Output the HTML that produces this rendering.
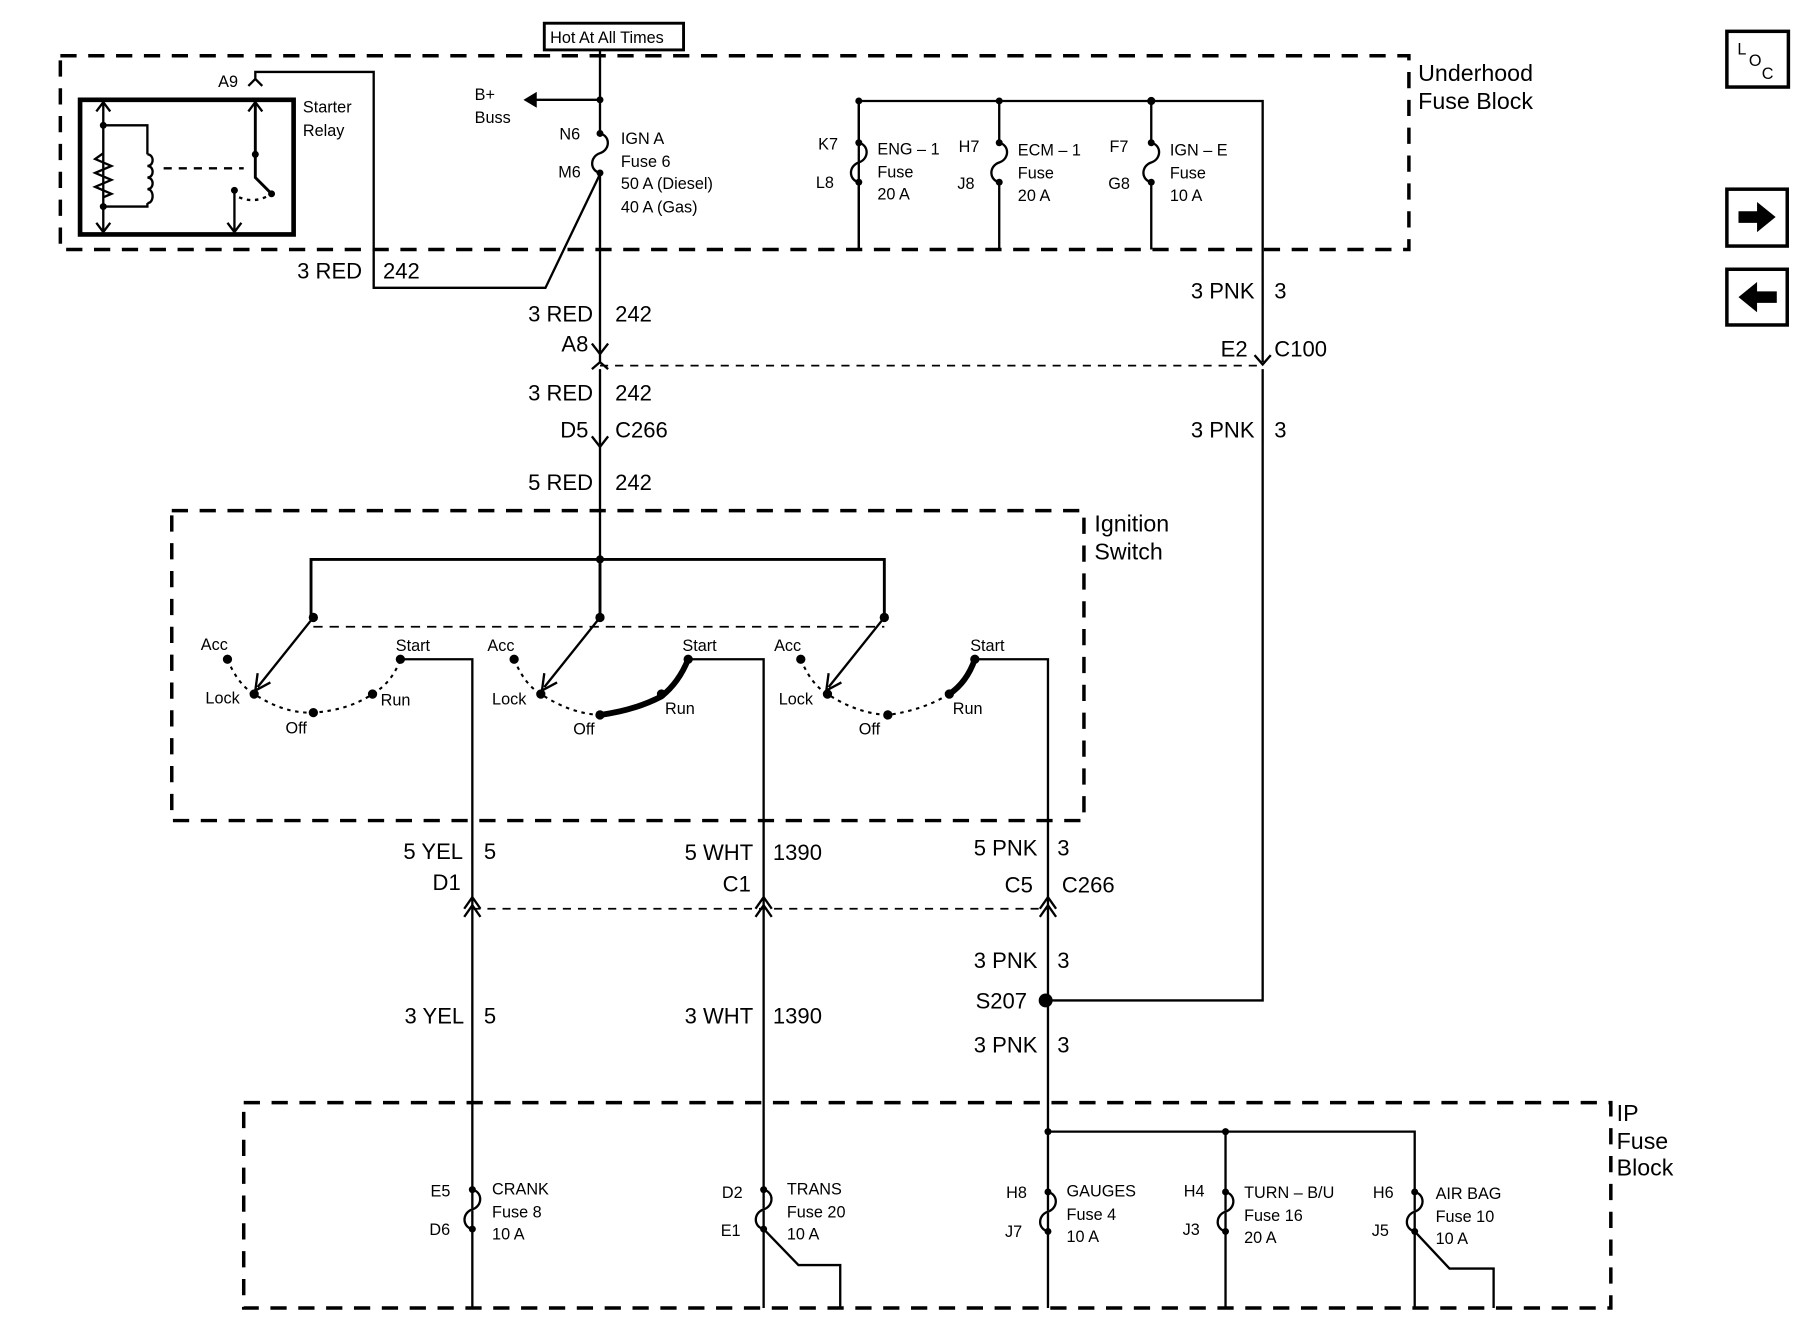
<!DOCTYPE html>
<html><head><meta charset="utf-8"><style>
html,body{margin:0;padding:0;background:#fff;}
svg{display:block}
text{font-family:"Liberation Sans",Arial,sans-serif;fill:#000}
.w{font-size:19px}
.s{font-size:14px}
.l{font-size:20px}
</style></head><body>
<svg width="1800" height="1344" viewBox="0 0 1551 1158" preserveAspectRatio="none" xmlns="http://www.w3.org/2000/svg">
<g fill="none" stroke="#000">
<!-- dashed boxes -->
<rect x="52" y="48" width="1162" height="167" stroke-width="3" stroke-dasharray="14,10"/>
<rect x="148" y="440" width="786" height="267" stroke-width="3" stroke-dasharray="14,10"/>
<rect x="210" y="950" width="1178" height="177" stroke-width="3" stroke-dasharray="14,10"/>
<!-- hot box -->
<rect x="469" y="20" width="120" height="23" stroke-width="2.5"/>
<!-- starter relay -->
<rect x="69" y="86" width="184" height="116" stroke-width="4"/>
<path d="M89,88 V200 M89,108 H127 V133 M127,175 V178 H89 M89,132 L82,137 L96,143 L82,149 L96,155 L82,161 L96,167 L89,170" stroke-width="2"/>
<path d="M127,133 c6,0 6,10 0,10 c6,0 6,10 0,10 c6,0 6,10 0,10 c6,0 6,12 0,12" stroke-width="2"/>
<path d="M83,96 L89,88 L95,96 M83,192 L89,200 L95,192" stroke-width="2"/>
<path d="M141,145 H210" stroke-width="2" stroke-dasharray="7,6"/>
<path d="M220,88 V153 L234,167" stroke-width="2.5"/>
<path d="M214,96 L220,88 L226,96" stroke-width="2"/>
<path d="M202,164 V200 M196,192 L202,200 L208,192" stroke-width="2"/>
<path d="M206,170 Q220,176 234,167" stroke-width="2" stroke-dasharray="3,4"/>
<path d="M214,74 L220,68 L226,74 M220,68 V62 H322 V248 H470 L517,150" stroke-width="2"/>
<path d="M322,222 V248" stroke-width="1.5"/>
<!-- main feed -->
<path d="M517,43 V115 M517,149 V312 M517,318 V480" stroke-width="2"/>
<path d="M517,115 c9,2 9,14 0,17 c-9,3 -9,15 0,17" stroke-width="2"/>
<path d="M517,86 H462" stroke-width="2"/>
<path d="M462,80 L452,86 L462,92 Z" fill="#000"/>
<path d="M510,296 L517,305 L524,296 M510,318 L517,312 L524,318 M510,376 L517,385 L524,376" stroke-width="2"/>
<path d="M517,315 H1088" stroke-width="1.5" stroke-dasharray="7,6"/>
<!-- right fuses -->
<path d="M740,215 V87 H1088 V312 M1088,318 V862 H903" stroke-width="2"/>
<path d="M740,87 V123 M740,157 V215 M861,87 V123 M861,157 V215 M992,87 V123 M992,157 V215" stroke-width="2"/>
<path d="M740,123 c9,2 9,14 0,17 c-9,3 -9,15 0,17 M861,123 c9,2 9,14 0,17 c-9,3 -9,15 0,17 M992,123 c9,2 9,14 0,17 c-9,3 -9,15 0,17" stroke-width="2"/>
<path d="M1081,306 L1088,314 L1095,306" stroke-width="2"/>
<!-- wire label dividers -->
<path d="M517,260 V282 M517,328 V350 M517,404 V426 M1088,240 V262 M1088,360 V382 M407,722 V744 M658,722 V744 M903,720 V742 M903,816 V838 M407,864 V886 M658,864 V886 M903,890 V912" stroke-width="1.5"/>
<!-- ignition switch -->
<path d="M268,532 V482 H762 V532 M517,482 V532" stroke-width="2.5"/>
<path d="M270,540 H762" stroke-width="1.5" stroke-dasharray="8,6"/>
<path d="M270,532 L222,592 M517,532 L469,592 M762,532 L714,592" stroke-width="2"/>
<path d="M222,580 L220,595 L233,588 M469,580 L467,595 L480,588 M714,580 L712,595 L725,588" stroke-width="2"/>
<path d="M196,568 Q205,590 219,598 Q245,615 270,614 Q300,612 321,598 Q338,588 345,568" stroke-width="1.8" stroke-dasharray="3,4"/>
<path d="M443,568 Q452,590 466,598 Q492,615 517,616 Q547,612 570,598 Q585,588 593,568" stroke-width="1.8" stroke-dasharray="3,4"/>
<path d="M690,568 Q699,590 713,598 Q739,615 765,616 Q795,612 818,598 Q833,588 840,568" stroke-width="1.8" stroke-dasharray="3,4"/>
<path d="M517,616 Q547,612 570,600 Q585,588 593,568" stroke-width="5"/>
<path d="M818,598 Q833,588 840,568" stroke-width="5"/>
<path d="M345,568 H407 V1127 M593,568 H658 V1127 M840,568 H903 V1127" stroke-width="2"/>
<path d="M400,783 L407,773 L414,783 M400,790 L407,780 L414,790 M651,783 L658,773 L665,783 M651,790 L658,780 L665,790 M896,783 L903,773 L910,783 M896,790 L903,780 L910,790" stroke-width="2"/>
<path d="M407,783 H903" stroke-width="1.5" stroke-dasharray="7,6"/>
<!-- IP fuse block -->
<path d="M903,975 H1219 V1127 M1056,975 V1127" stroke-width="2"/>
<path d="M407,1025 c9,2 9,14 0,17 c-9,3 -9,15 0,17 M658,1025 c9,2 9,14 0,17 c-9,3 -9,15 0,17 M903,1027 c9,2 9,14 0,17 c-9,3 -9,15 0,17 M1056,1027 c9,2 9,14 0,17 c-9,3 -9,15 0,17 M1219,1027 c9,2 9,14 0,17 c-9,3 -9,15 0,17" stroke-width="2" stroke="#fff" stroke-width="6"/>
<path d="M407,1025 c9,2 9,14 0,17 c-9,3 -9,15 0,17 M658,1025 c9,2 9,14 0,17 c-9,3 -9,15 0,17 M903,1027 c9,2 9,14 0,17 c-9,3 -9,15 0,17 M1056,1027 c9,2 9,14 0,17 c-9,3 -9,15 0,17 M1219,1027 c9,2 9,14 0,17 c-9,3 -9,15 0,17" stroke-width="2"/>
<path d="M658,1059 L688,1090 H724 V1127 M1219,1061 L1249,1093 H1287 V1127" stroke-width="2"/>
<!-- nav icons -->
<rect x="1488" y="27" width="53" height="48" stroke-width="3"/>
<rect x="1488" y="163" width="52" height="49" stroke-width="3"/>
<rect x="1488" y="232" width="52" height="48" stroke-width="3"/>
</g>
<g fill="#000">
<circle cx="89" cy="108" r="3"/><circle cx="89" cy="178" r="3"/><circle cx="220" cy="133" r="3"/><circle cx="234" cy="167" r="3"/><circle cx="202" cy="164" r="3"/>
<circle cx="517" cy="86" r="3"/><circle cx="517" cy="115" r="3"/><circle cx="517" cy="149" r="3"/>
<circle cx="740" cy="87" r="3"/><circle cx="861" cy="87" r="3"/><circle cx="992" cy="87" r="3.5"/>
<circle cx="740" cy="123" r="3"/><circle cx="740" cy="157" r="3"/><circle cx="861" cy="123" r="3"/><circle cx="861" cy="157" r="3"/><circle cx="992" cy="123" r="3"/><circle cx="992" cy="157" r="3"/>
<circle cx="517" cy="482" r="3.5"/>
<circle cx="270" cy="532" r="4"/><circle cx="517" cy="532" r="4"/><circle cx="762" cy="532" r="4"/>
<circle cx="196" cy="568" r="4"/><circle cx="219" cy="598" r="4"/><circle cx="270" cy="614" r="4"/><circle cx="321" cy="598" r="4"/><circle cx="345" cy="568" r="4"/>
<circle cx="443" cy="568" r="4"/><circle cx="466" cy="598" r="4"/><circle cx="517" cy="616" r="4"/><circle cx="570" cy="598" r="4"/><circle cx="593" cy="568" r="4"/>
<circle cx="690" cy="568" r="4"/><circle cx="713" cy="598" r="4"/><circle cx="765" cy="616" r="4"/><circle cx="818" cy="598" r="4"/><circle cx="840" cy="568" r="4"/>
<circle cx="901" cy="862" r="6"/><circle cx="903" cy="975" r="3"/><circle cx="1056" cy="975" r="3"/>
<circle cx="407" cy="1025" r="3"/><circle cx="407" cy="1059" r="3"/><circle cx="658" cy="1025" r="3"/><circle cx="658" cy="1059" r="3"/>
<circle cx="903" cy="1027" r="3"/><circle cx="903" cy="1061" r="3"/><circle cx="1056" cy="1027" r="3"/><circle cx="1056" cy="1061" r="3"/><circle cx="1219" cy="1027" r="3"/><circle cx="1219" cy="1061" r="3"/>
<path d="M1498,182 H1514 V174 L1530,187 L1514,200 V192 H1498 Z"/>
<path d="M1531,251 H1514 V243 L1498,256 L1514,269 V261 H1531 Z"/>
</g>
<text x="1497" y="47" font-size="14">L</text><text x="1507" y="57" font-size="14">O</text><text x="1518" y="68" font-size="14">C</text>
<text x="474" y="37" font-size="14">Hot At All Times</text>
<text x="1222" y="70" class="l">Underhood</text><text x="1222" y="94" class="l">Fuse Block</text>
<text x="943" y="458" class="l">Ignition</text><text x="943" y="482" class="l">Switch</text>
<text x="1393" y="966" class="l">IP</text><text x="1393" y="990" class="l">Fuse</text><text x="1393" y="1013" class="l">Block</text>
<g class="s">
<text x="188" y="75">A9</text><text x="261" y="97">Starter</text><text x="261" y="117">Relay</text>
<text x="409" y="86">B+</text><text x="409" y="106">Buss</text>
<text x="482" y="120">N6</text><text x="481" y="153">M6</text>
<text x="535" y="124">IGN A</text><text x="535" y="144">Fuse 6</text><text x="535" y="163">50 A (Diesel)</text><text x="535" y="183">40 A (Gas)</text>
<text x="705" y="129">K7</text><text x="703" y="162">L8</text><text x="756" y="133">ENG – 1</text><text x="756" y="153">Fuse</text><text x="756" y="172">20 A</text>
<text x="826" y="131">H7</text><text x="825" y="163">J8</text><text x="877" y="134">ECM – 1</text><text x="877" y="154">Fuse</text><text x="877" y="173">20 A</text>
<text x="956" y="131">F7</text><text x="955" y="163">G8</text><text x="1008" y="134">IGN – E</text><text x="1008" y="154">Fuse</text><text x="1008" y="173">10 A</text>
<text x="173" y="560">Acc</text><text x="177" y="606">Lock</text><text x="246" y="632">Off</text><text x="328" y="608">Run</text><text x="341" y="561">Start</text>
<text x="420" y="561">Acc</text><text x="424" y="607">Lock</text><text x="494" y="633">Off</text><text x="573" y="615">Run</text><text x="588" y="561">Start</text>
<text x="667" y="561">Acc</text><text x="671" y="607">Lock</text><text x="740" y="633">Off</text><text x="821" y="615">Run</text><text x="836" y="561">Start</text>
<text x="371" y="1031">E5</text><text x="370" y="1064">D6</text><text x="424" y="1029">CRANK</text><text x="424" y="1049">Fuse 8</text><text x="424" y="1068">10 A</text>
<text x="622" y="1032">D2</text><text x="621" y="1065">E1</text><text x="678" y="1029">TRANS</text><text x="678" y="1049">Fuse 20</text><text x="678" y="1068">10 A</text>
<text x="867" y="1032">H8</text><text x="866" y="1066">J7</text><text x="919" y="1031">GAUGES</text><text x="919" y="1051">Fuse 4</text><text x="919" y="1070">10 A</text>
<text x="1020" y="1031">H4</text><text x="1019" y="1064">J3</text><text x="1072" y="1032">TURN – B/U</text><text x="1072" y="1052">Fuse 16</text><text x="1072" y="1071">20 A</text>
<text x="1183" y="1032">H6</text><text x="1182" y="1065">J5</text><text x="1237" y="1033">AIR BAG</text><text x="1237" y="1053">Fuse 10</text><text x="1237" y="1072">10 A</text>
</g>
<g class="w">
<text x="312" y="240" text-anchor="end">3 RED</text><text x="330" y="240">242</text>
<text x="511" y="277" text-anchor="end">3 RED</text><text x="530" y="277">242</text>
<text x="507" y="303" text-anchor="end">A8</text>
<text x="511" y="345" text-anchor="end">3 RED</text><text x="530" y="345">242</text>
<text x="507" y="377" text-anchor="end">D5</text><text x="530" y="377">C266</text>
<text x="511" y="422" text-anchor="end">5 RED</text><text x="530" y="422">242</text>
<text x="1081" y="257" text-anchor="end">3 PNK</text><text x="1098" y="257">3</text>
<text x="1075" y="307" text-anchor="end">E2</text><text x="1098" y="307">C100</text>
<text x="1081" y="377" text-anchor="end">3 PNK</text><text x="1098" y="377">3</text>
<text x="399" y="740" text-anchor="end">5 YEL</text><text x="417" y="740">5</text>
<text x="397" y="767" text-anchor="end">D1</text>
<text x="649" y="741" text-anchor="end">5 WHT</text><text x="666" y="741">1390</text>
<text x="647" y="768" text-anchor="end">C1</text>
<text x="894" y="737" text-anchor="end">5 PNK</text><text x="911" y="737">3</text>
<text x="890" y="769" text-anchor="end">C5</text><text x="915" y="769">C266</text>
<text x="894" y="834" text-anchor="end">3 PNK</text><text x="911" y="834">3</text>
<text x="885" y="869" text-anchor="end">S207</text>
<text x="400" y="882" text-anchor="end">3 YEL</text><text x="417" y="882">5</text>
<text x="649" y="882" text-anchor="end">3 WHT</text><text x="666" y="882">1390</text>
<text x="894" y="907" text-anchor="end">3 PNK</text><text x="911" y="907">3</text>
</g>
</svg>
</body></html>
